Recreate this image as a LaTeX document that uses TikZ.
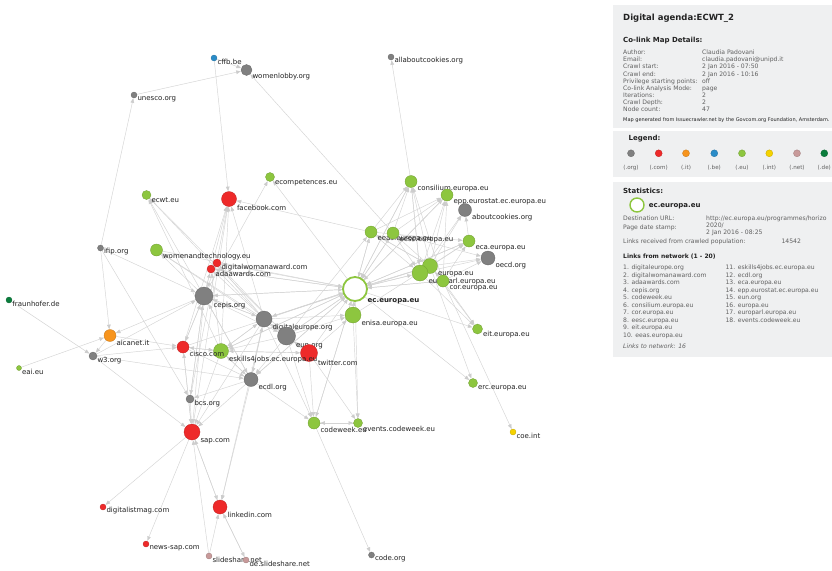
\documentclass[tikz,border=0pt]{standalone}
\usepackage{fontspec}
\setmainfont{DejaVu Sans}
\usetikzlibrary{arrows.meta}
\definecolor{corg}{HTML}{808080}
\definecolor{ccom}{HTML}{EE2A2A}
\definecolor{cit}{HTML}{F7941D}
\definecolor{cbe}{HTML}{2A8CC8}
\definecolor{ceu}{HTML}{8DC63F}
\definecolor{cint}{HTML}{F5D200}
\definecolor{cnet}{HTML}{C89A9A}
\definecolor{cde}{HTML}{0A7D3C}
\definecolor{panel}{HTML}{EFF0F1}
\definecolor{edgec}{HTML}{D4D4D4}
\definecolor{arrc}{HTML}{CCCCCC}
\definecolor{txt}{HTML}{222222}
\definecolor{ptxt}{HTML}{606060}
\pgfdeclarelayer{back}
\pgfdeclarelayer{bg}
\pgfsetlayers{back,bg,main}
\tikzset{
  dot/.style={circle, inner sep=0pt, outer sep=0pt, line width=0.3pt},
  lbl/.style={anchor=west, inner sep=0pt, font=\fontsize{7}{8}\selectfont, text=txt},
  edge/.style={draw=edgec, line width=0.45pt, -{Triangle[length=4.5pt,width=3.6pt,color=arrc]}, shorten >=0.4pt},
  ptx/.style={anchor=base west, inner sep=0pt, font=\fontsize{6.1}{7}\selectfont, text=ptxt},
  psm/.style={anchor=base west, inner sep=0pt, font=\fontsize{5}{6}\selectfont, text=txt},
  phead/.style={anchor=base west, inner sep=0pt, font=\bfseries\fontsize{7}{8}\selectfont, text=txt},
  pleg/.style={anchor=base, inner sep=0pt, font=\fontsize{5.6}{6}\selectfont, text=ptxt},
  legdot/.style={circle, inner sep=0pt, minimum size=7pt, line width=0.3pt}
}
\newcommand\nd[6]{%
  \node[dot, minimum size=#4*2pt, fill=#5, draw=#5!80!black] (#1) at (#2,#3) {};
  \node[lbl] (#1-l) at ([xshift=#4pt+0.3pt, yshift=-#4pt-1pt]#1.center) {#6};}
\begin{document}
\begin{tikzpicture}[x=1pt, y=-1pt]
\useasboundingbox (0,0) rectangle (832,570);
\begin{pgfonlayer}{back}
\fill[white] (0,0) rectangle (832,570);
\end{pgfonlayer}
% ---------- nodes ----------
\nd{cffb}{214}{58}{3}{cbe}{cffb.be}
\nd{womenlobby}{246.5}{70}{5.5}{corg}{womenlobby.org}
\nd{unesco}{134}{95}{3}{corg}{unesco.org}
\nd{allabout}{391}{57}{3}{corg}{allaboutcookies.org}
\nd{ecomp}{270}{177}{4.5}{ceu}{ecompetences.eu}
\nd{facebook}{229}{199}{7.5}{ccom}{facebook.com}
\nd{ecwt}{146.5}{195}{4.5}{ceu}{ecwt.eu}
\nd{consilium}{411}{181.5}{6}{ceu}{consilium.europa.eu}
\nd{epp}{447}{195}{6}{ceu}{epp.eurostat.ec.europa.eu}
\nd{aboutck}{465}{210}{6.5}{corg}{aboutcookies.org}
\nd{eeas}{371}{232}{6}{ceu}{eeas.europa.eu}
\nd{eesc}{393}{233}{6}{ceu}{eesc.europa.eu}
\nd{eca}{469}{241}{6}{ceu}{eca.europa.eu}
\nd{oecd}{488}{258}{7}{corg}{oecd.org}
\nd{europa}{430}{266}{7.5}{ceu}{europa.eu}
\nd{europarl}{420}{273}{8}{ceu}{europarl.europa.eu}
\nd{cor}{443}{281}{6}{ceu}{cor.europa.eu}
\node[dot, minimum size=24pt, fill=white, draw=ceu, line width=1.8pt] (ec) at (355,289) {};
\node[lbl, font=\bfseries\fontsize{7}{8}\selectfont] (ec-l) at (367.5,301.5) {ec.europa.eu};
\nd{enisa}{353}{315}{8}{ceu}{enisa.europa.eu}
\nd{eit}{477.5}{329}{5}{ceu}{eit.europa.eu}
\nd{erc}{473}{383}{4.5}{ceu}{erc.europa.eu}
\nd{coe}{513}{432}{3}{cint}{coe.int}
\nd{cepis}{204}{296}{9}{corg}{cepis.org}
\nd{digeu}{264}{319}{8}{corg}{digitaleurope.org}
\nd{eun}{286.5}{336}{9}{corg}{eun.org}
\nd{twitter}{309}{353}{8.5}{ccom}{twitter.com}
\nd{eskills}{221}{351}{7.5}{ceu}{eskills4jobs.ec.europa.eu}
\nd{cisco}{183}{347}{6}{ccom}{cisco.com}
\nd{aicanet}{110}{335.5}{6}{cit}{aicanet.it}
\nd{w3}{93}{356}{4}{corg}{w3.org}
\nd{eai}{19}{368}{2.5}{ceu}{eai.eu}
\nd{fraunhofer}{9}{300}{3}{cde}{fraunhofer.de}
\nd{ifip}{100.5}{248}{3}{corg}{ifip.org}
\nd{womentech}{156.5}{250}{6}{ceu}{womenandtechnology.eu}
\nd{dwa}{217}{263}{4}{ccom}{digitalwomanaward.com}
\nd{ada}{211}{269}{4}{ccom}{adaawards.com}
\nd{ecdl}{251}{379.5}{7}{corg}{ecdl.org}
\nd{bcs}{190}{399}{4}{corg}{bcs.org}
\nd{sap}{192}{432}{8}{ccom}{sap.com}
\nd{codeweek}{314}{423}{6}{ceu}{codeweek.eu}
\nd{events}{358}{423}{4.5}{ceu}{events.codeweek.eu}
\nd{digitalist}{103}{507}{3}{ccom}{digitalistmag.com}
\nd{linkedin}{220}{507}{7}{ccom}{linkedin.com}
\nd{newssap}{146}{544}{3}{ccom}{news-sap.com}
\nd{slideshare}{209}{556}{3}{cnet}{slideshare.net}
\nd{deslide}{246}{560}{3}{cnet}{de.slideshare.net}
\nd{codeorg}{371.5}{555}{3}{corg}{code.org}
% ---------- edges ----------
\begin{pgfonlayer}{bg}
\foreach \a/\b in {cffb/womenlobby, unesco/womenlobby, cffb/facebook, ifip/unesco, eesc/womenlobby,
  cepis/ecomp, ec/ecomp, eeas/facebook,
  cepis/ecwt, digeu/ecwt, eun/ecwt, eskills/ecwt,
  cepis/facebook, digeu/facebook, cisco/facebook, eskills/facebook, bcs/facebook, sap/facebook,
  ifip/aicanet, ifip/cepis, ifip/bcs,
  cepis/womentech, eun/womentech, digeu/womentech, womentech/ec,
  cepis/aicanet, w3/cepis, eai/aicanet, fraunhofer/w3, w3/sap, aicanet/w3, aicanet/cisco, w3/cisco, w3/ecdl,
  cisco/eskills, eskills/cisco, cisco/ecdl, cisco/cepis, cepis/cisco,
  cepis/digeu, digeu/cepis, cepis/eun,
  cepis/ec, digeu/ec, eun/ec, twitter/ec, eskills/ec, ecdl/ec, cisco/ec, enisa/ec, codeweek/ec, ada/ec,
  ec/digeu, ec/dwa, ec/ada, ec/cepis, ec/codeweek, ec/consilium, ec/cor, ec/eesc, ec/eit, ec/eeas,
  ec/eskills, ec/ecdl, ec/eca, ec/epp, ec/eun, ec/europa, ec/europarl, ec/events, ec/erc,
  europa/ec, europarl/ec, cor/ec, eesc/ec, eeas/ec, consilium/ec, eca/ec, epp/ec,
  digeu/dwa, digeu/ada, cepis/ada, eun/dwa, eskills/ada, dwa/cepis,
  digeu/eun, eun/digeu, digeu/twitter, eun/twitter, twitter/eun, eskills/twitter, twitter/eskills,
  digeu/eskills, eskills/digeu, eun/eskills,
  eskills/ecdl, ecdl/eskills, digeu/ecdl, ecdl/digeu, eun/ecdl, ecdl/cepis, cepis/ecdl,
  cepis/bcs, bcs/cepis, ecdl/bcs,
  cepis/sap, bcs/sap, ecdl/sap, eskills/sap, cisco/sap, digeu/sap, sap/cisco,
  sap/linkedin, linkedin/sap, sap/digitalist, sap/newssap, slideshare/sap, slideshare/linkedin,
  linkedin/deslide, deslide/linkedin, digeu/linkedin, ecdl/linkedin,
  codeweek/codeorg, codeweek/events, events/codeweek, twitter/codeweek, twitter/events, enisa/events,
  eun/codeweek, digeu/codeweek, ecdl/codeweek,
  consilium/allabout,
  europa/consilium, europarl/consilium, eeas/consilium, eesc/consilium, cor/consilium,
  europa/epp, europarl/epp, eesc/epp, eeas/epp, cor/epp,
  europa/aboutck, eca/aboutck, europarl/aboutck,
  europa/eca, europarl/eca, eeas/eca, cor/eca,
  europa/oecd, europarl/oecd, eesc/oecd, cor/oecd,
  europa/eit, europarl/eit, cor/eit,
  europa/erc, cor/coe,
  europa/eesc, eeas/europa, europarl/europa, europa/europarl, consilium/europarl, cor/europa,
  eesc/europarl, eeas/europarl, europa/eeas,
  digeu/enisa, eun/enisa, twitter/enisa, enisa/europa, digeu/europa, eun/eeas}
  \draw[edge] (\a) -- (\b);
\end{pgfonlayer}
% ---------- panel: details ----------
\fill[panel] (613,5) rectangle (832,128);
\node[anchor=base west, inner sep=0pt, font=\bfseries\fontsize{8.5}{10}\selectfont, text=txt] (title) at (623,20) {Digital agenda:ECWT\_2};
\node[phead] (dethead) at (623,42.5) {Co-link Map Details:};
\node[ptx] (k1) at (623,54.7) {Author:}; \node[ptx] (v1) at (702,54.7) {Claudia Padovani};
\node[ptx] (k2) at (623,61.8) {Email:}; \node[ptx] (v2) at (702,61.8) {claudia.padovani@unipd.it};
\node[ptx] (k3) at (623,68.9) {Crawl start:}; \node[ptx] (v3) at (702,68.9) {2 Jan 2016 - 07:50};
\node[ptx] (k4) at (623,76.0) {Crawl end:}; \node[ptx] (v4) at (702,76.0) {2 Jan 2016 - 10:16};
\node[ptx] (k5) at (623,83.1) {Privilege starting points:}; \node[ptx] (v5) at (702,83.1) {off};
\node[ptx] (k6) at (623,90.2) {Co-link Analysis Mode:}; \node[ptx] (v6) at (702,90.2) {page};
\node[ptx] (k7) at (623,97.3) {Iterations:}; \node[ptx] (v7) at (702,97.3) {2};
\node[ptx] (k8) at (623,104.4) {Crawl Depth:}; \node[ptx] (v8) at (702,104.4) {2};
\node[ptx] (k9) at (623,111.5) {Node count:}; \node[ptx] (v9) at (702,111.5) {47};
\node[psm] (foot) at (623,121.2) {Map generated from Issuecrawler.net by the Govcom.org Foundation, Amsterdam.};
% ---------- panel: legend ----------
\fill[panel] (613,131) rectangle (832,177);
\node[phead] (leghead) at (628.5,140.8) {Legend:};
\foreach \n/\x/\c/\t in {l1/631/corg/(.org), l2/658.7/ccom/(.com), l3/686/cit/(.it), l4/714.3/cbe/(.be),
  l5/742/ceu/(.eu), l6/769.3/cint/(.int), l7/797/cnet/(.net), l8/824.3/cde/(.de)}{
  \node[legdot, fill=\c, draw=\c!80!black] (\n) at (\x,153.3) {};
  \node[pleg] (\n-t) at (\x,169.3) {\t};
}
% ---------- panel: statistics ----------
\fill[panel] (613,182) rectangle (832,357);
\node[phead] (stathead) at (623,193.2) {Statistics:};
\node[circle, inner sep=0pt, minimum size=14pt, draw=ceu, line width=1.4pt, fill=white] (statdot) at (637,205) {};
\node[phead] (statname) at (648.7,207.6) {ec.europa.eu};
\node[ptx] (s1) at (623,220.5) {Destination URL:};
\node[ptx] (s1v) at (706,220.5) {http://ec.europa.eu/programmes/horizo};
\node[ptx] (s1w) at (706,227.2) {2020/};
\node[ptx] (s2) at (623,229.5) {Page date stamp:};
\node[ptx] (s2v) at (706,234.9) {2 Jan 2016 - 08:25};
\node[ptx] (s3) at (623,243.9) {Links received from crawled population:};
\node[ptx] (s3v) at (781.3,243.9) {14542};
\node[anchor=base west, inner sep=0pt, font=\bfseries\fontsize{6}{7}\selectfont, text=txt] (lhead) at (623,258.2) {Links from network (1 - 20)};
\foreach \i/\t [count=\k from 0] in {1/digitaleurope.org, 2/digitalwomanaward.com, 3/adaawards.com, 4/cepis.org,
  5/codeweek.eu, 6/consilium.europa.eu, 7/cor.europa.eu, 8/eesc.europa.eu, 9/eit.europa.eu, 10/eeas.europa.eu}
  \node[ptx] (la\i) at (623,269.9+7.47*\k) {\i. \t};
\foreach \i/\t [count=\k from 0] in {11/eskills4jobs.ec.europa.eu, 12/ecdl.org, 13/eca.europa.eu, 14/epp.eurostat.ec.europa.eu,
  15/eun.org, 16/europa.eu, 17/europarl.europa.eu, 18/events.codeweek.eu}
  \node[ptx] (lb\i) at (725.3,269.9+7.47*\k) {\i. \t};
\node[ptx, font=\itshape\fontsize{6.1}{7}\selectfont] (lto) at (623,348.9) {Links to network: 16};
\end{tikzpicture}
\end{document}
